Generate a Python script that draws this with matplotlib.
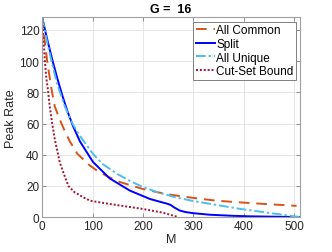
import matplotlib
matplotlib.use('Agg')
import matplotlib.pyplot as plt

plt.rcParams['font.family'] = ['Liberation Sans', 'DejaVu Sans']

# values
m_common = [0, 5, 10, 18, 25, 35, 45, 55, 70, 95, 108, 130, 154, 200, 247, 300, 346, 412, 505]
r_common = [128, 113, 100, 83, 71, 62.5, 55, 48.5, 40.5, 33, 30, 26, 22.5, 18, 14.7, 12.3, 10.5, 9, 7.2]

m_split = [0, 10, 20, 30, 40, 50, 61, 75, 101, 134, 174, 214, 250, 256, 262, 273, 285, 300, 333, 346, 380, 412, 450, 512]
r_split = [128, 114, 101, 89, 78, 68, 58.5, 48.5, 35.3, 24.8, 17, 11.6, 8.4, 7.6, 6.2, 4.2, 3.2, 2.5, 1.5, 1.3, 0.8, 0.5, 0.3, 0]

m_unique = [0, 10, 20, 30, 45, 60, 75, 101, 120, 150, 175, 200, 230, 267, 300, 333, 392, 450, 512]
r_unique = [128, 112, 98, 85, 71, 60, 52, 40.5, 34, 27.5, 23, 19.3, 15.8, 12.5, 10.3, 8.5, 5.3, 2.7, 0]

m_cut = [0, 3, 5.4, 8, 12, 15, 18.5, 25, 35, 45, 52, 64, 80, 95, 134, 200, 240, 270]
r_cut = [128, 112, 100, 90, 80, 71, 63, 50, 35, 26, 20, 16, 13, 10.5, 8.4, 5.2, 2.8, 0]

fig = plt.figure(figsize=(3.32, 2.53), dpi=100)
ax = fig.add_axes([0.127, 0.138, 0.777, 0.789])

ax.plot(m_common, r_common, linestyle=(0, (5.5, 3.5)), color='#D95319', lw=1.4, label='All Common')
ax.plot(m_split, r_split, '-', color='#0000FF', lw=1.4, label='Split')
ax.plot(m_unique, r_unique, linestyle=(0, (5, 1.5, 1.2, 1.5)), color='#4DBEEE', lw=1.4, label='All Unique')
ax.plot(m_cut, r_cut, linestyle=(0, (1, 1)), color='#A2142F', lw=1.4, label='Cut-Set Bound')

ax.set_xlim(0, 512)
ax.set_ylim(0, 128)
ax.set_xticks([0, 100, 200, 300, 400, 500])
ax.set_yticks([0, 20, 40, 60, 80, 100, 120])
ax.grid(True, color='#e6e6e6', lw=0.7)
ax.set_axisbelow(True)
for s in ax.spines.values():
    s.set_color('#a0a0a0')
    s.set_linewidth(0.8)
ax.tick_params(direction='in', length=3, width=0.6, color='#808080',
               labelsize=8.5, labelcolor='#262626', top=True, right=True, pad=2)

ax.set_xlabel('M', fontsize=9, color='#262626', labelpad=1)
ax.set_ylabel('Peak Rate', fontsize=9, color='#262626', labelpad=2)
ax.set_title('G =  16', fontsize=9, fontweight='bold', pad=4)

leg = ax.legend(loc='upper right', fontsize=8.5, handlelength=1.6, handletextpad=0.15,
                borderaxespad=0.35, borderpad=0.2, labelspacing=0.15, fancybox=False,
                framealpha=1)
leg.get_frame().set_edgecolor('#808080')
leg.get_frame().set_linewidth(0.7)

fig.savefig('out.png', dpi=100)
